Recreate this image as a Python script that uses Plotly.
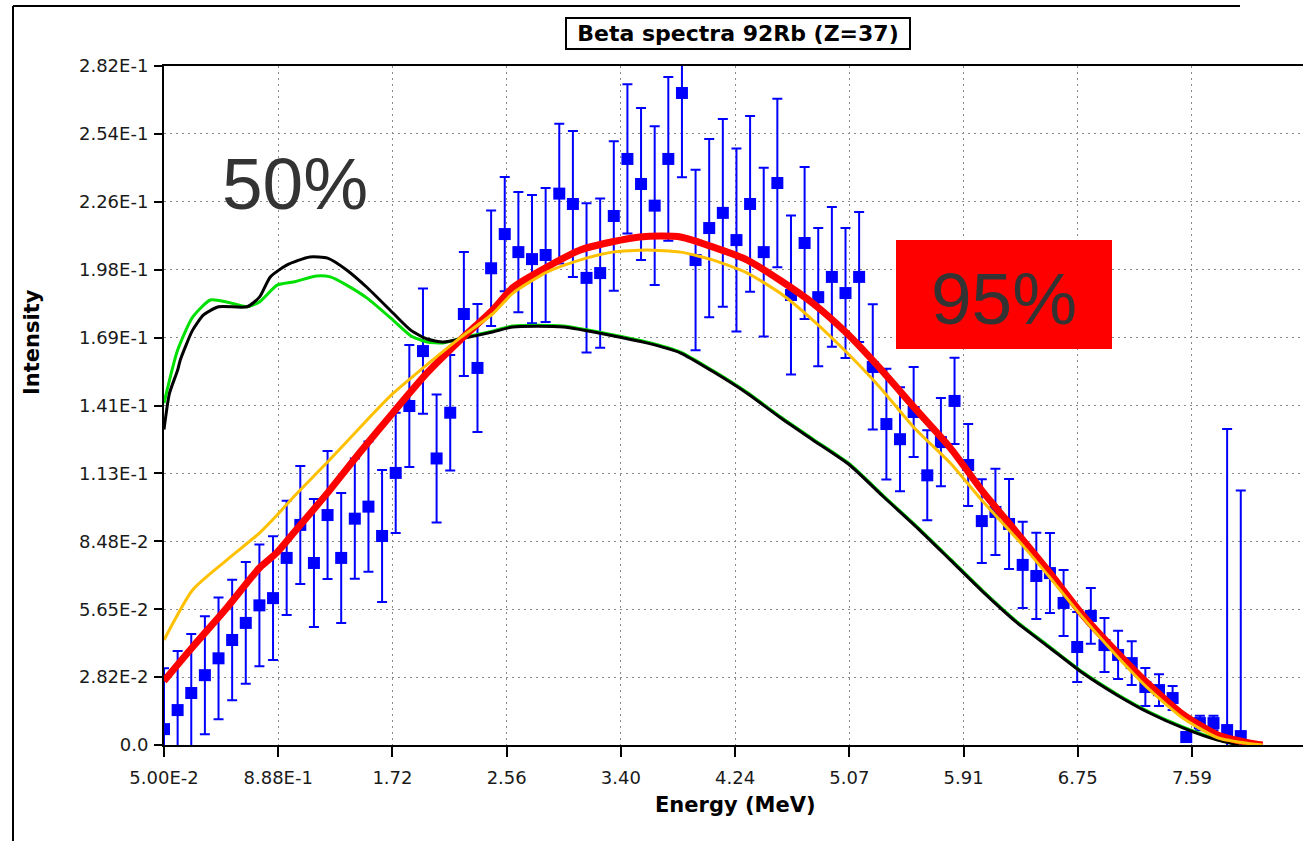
import plotly.graph_objects as go

# ---------------- data ----------------
# measured points (MeV, intensity, +/- error)
data_energy = [0.05, 0.15, 0.25, 0.35, 0.45, 0.55, 0.65, 0.75, 0.85, 0.95,
               1.05, 1.15, 1.25, 1.35, 1.45, 1.55, 1.65, 1.75, 1.85, 1.95,
               2.05, 2.15, 2.25, 2.35, 2.45, 2.55, 2.65, 2.75, 2.85, 2.95,
               3.05, 3.15, 3.25, 3.35, 3.45, 3.55, 3.65, 3.75, 3.85, 3.95,
               4.05, 4.15, 4.25, 4.35, 4.45, 4.55, 4.65, 4.75, 4.85, 4.95,
               5.05, 5.15, 5.25, 5.35, 5.45, 5.55, 5.65, 5.75, 5.85, 5.95,
               6.05, 6.15, 6.25, 6.35, 6.45, 6.55, 6.65, 6.75, 6.85, 6.95,
               7.05, 7.15, 7.25, 7.35, 7.45, 7.55, 7.65, 7.75, 7.85, 7.95]
data_intensity = [0.0066, 0.0145, 0.0216, 0.0290, 0.0360, 0.0436, 0.0507, 0.0580, 0.0610, 0.0777,
                  0.0914, 0.0756, 0.0955, 0.0777, 0.0940, 0.0990, 0.0868, 0.1130, 0.1408, 0.1636,
                  0.1190, 0.1380, 0.1790, 0.1566, 0.1980, 0.2122, 0.2047, 0.2018, 0.2035, 0.2290,
                  0.2247, 0.1940, 0.1960, 0.2197, 0.2434, 0.2330, 0.2240, 0.2434, 0.2708, 0.2014,
                  0.2147, 0.2210, 0.2097, 0.2247, 0.2047, 0.2334, 0.1869, 0.2085, 0.1860, 0.1944,
                  0.1877, 0.1944, 0.1570, 0.1333, 0.1270, 0.1383, 0.1120, 0.1258, 0.1429, 0.1163,
                  0.0930, 0.0968, 0.0918, 0.0748, 0.0702, 0.0714, 0.0590, 0.0407, 0.0536, 0.0415,
                  0.0374, 0.0340, 0.0241, 0.0228, 0.0195, 0.0033, 0.0091, 0.0091, 0.0062, 0.0037]
data_error = [0.0253, 0.0245, 0.0245, 0.0245, 0.0253, 0.0250, 0.0253, 0.0253, 0.0257, 0.0237,
              0.0245, 0.0266, 0.0266, 0.0270, 0.0250, 0.0270, 0.0274, 0.0250, 0.0253, 0.0260,
              0.0266, 0.0240, 0.0257, 0.0266, 0.0240, 0.0237, 0.0250, 0.0266, 0.0278, 0.0290,
              0.0303, 0.0310, 0.0310, 0.0310, 0.0310, 0.0316, 0.0330, 0.0340, 0.0350, 0.0375,
              0.0370, 0.0390, 0.0380, 0.0365, 0.0350, 0.0350, 0.0330, 0.0316, 0.0287, 0.0290,
              0.0270, 0.0270, 0.0260, 0.0230, 0.0216, 0.0187, 0.0187, 0.0183, 0.0179, 0.0170,
              0.0174, 0.0179, 0.0187, 0.0179, 0.0179, 0.0166, 0.0137, 0.0145, 0.0116, 0.0112,
              0.0100, 0.0091, 0.0079, 0.0066, 0.0050, 0.0020, 0.0030, 0.0030, 0.1250, 0.1020]

# red (95%) curve
red_energy = [0.05, 0.26, 0.51, 0.75, 0.88, 1.00, 1.25, 1.49, 1.73, 1.98, 2.22, 2.46, 2.61,
              2.86, 3.10, 3.34, 3.54, 3.71, 3.84, 4.08, 4.33, 4.57, 4.81, 5.06, 5.30, 5.55,
              5.82, 6.06, 6.31, 6.55, 6.79, 7.04, 7.28, 7.53, 7.78, 8.02, 8.11]
red_intensity = [0.0266, 0.0407, 0.0569, 0.0735, 0.0800, 0.0880, 0.1047, 0.1217, 0.1380, 0.1545,
                 0.1680, 0.1806, 0.1900, 0.1985, 0.2055, 0.2090, 0.2110, 0.2114, 0.2110, 0.2068,
                 0.2014, 0.1930, 0.1835, 0.1710, 0.1566, 0.1404, 0.1233, 0.1050, 0.0880, 0.0714,
                 0.0540, 0.0386, 0.0249, 0.0125, 0.0042, 0.0008, 0.0]

# orange curve
orange_energy = [0.05, 0.26, 0.51, 0.75, 0.88, 1.00, 1.25, 1.49, 1.73, 1.98, 2.22, 2.46, 2.61,
                 2.86, 3.10, 3.34, 3.59, 3.84, 4.08, 4.33, 4.57, 4.81, 5.06, 5.30, 5.55, 5.82,
                 6.06, 6.31, 6.55, 6.79, 7.04, 7.28, 7.53, 7.78, 8.02, 8.11]
orange_intensity = [0.0436, 0.0644, 0.0768, 0.0880, 0.0955, 0.1030, 0.1175, 0.1320, 0.1460, 0.1580,
                    0.1690, 0.1790, 0.1877, 0.1964, 0.2014, 0.2047, 0.2056, 0.2047, 0.2014, 0.1960,
                    0.1877, 0.1765, 0.1630, 0.1487, 0.1320, 0.1170, 0.1010, 0.0855, 0.0695, 0.0530,
                    0.0370, 0.0230, 0.0110, 0.0030, 0.0005, 0.0]

# black (50%) curve
black_energy = [0.05, 0.09, 0.15, 0.17, 0.26, 0.34, 0.45, 0.66, 0.75, 0.83, 0.95, 1.12, 1.25,
                1.39, 1.54, 1.73, 1.86, 1.98, 2.10, 2.22, 2.46, 2.61, 2.98, 3.34, 3.59, 3.84,
                4.08, 4.33, 4.57, 4.81, 5.08, 5.33, 5.58, 5.82, 6.06, 6.31, 6.55, 6.79, 7.04,
                7.28, 7.53, 7.78, 7.94]
black_intensity = [0.1310, 0.1460, 0.1557, 0.1600, 0.1723, 0.1786, 0.1820, 0.1820, 0.1860, 0.1944,
                   0.1993, 0.2027, 0.2022, 0.1973, 0.1900, 0.1794, 0.1723, 0.1686, 0.1674, 0.1686,
                   0.1715, 0.1736, 0.1736, 0.1700, 0.1670, 0.1628, 0.1550, 0.1460, 0.1360, 0.1267,
                   0.1163, 0.1030, 0.0900, 0.0768, 0.0635, 0.0507, 0.0403, 0.0299, 0.0208, 0.0133,
                   0.0070, 0.0020, 0.0]

# green curve
green_energy = [0.05, 0.15, 0.26, 0.39, 0.51, 0.66, 0.75, 0.88, 1.00, 1.17, 1.27, 1.39, 1.54,
                1.73, 1.86, 1.98, 2.10, 2.22, 2.46, 2.61, 2.98, 3.34, 3.59, 3.84, 4.08, 4.33,
                4.57, 4.81, 5.08, 5.33, 5.58, 5.82, 6.06, 6.31, 6.55, 6.79, 7.04, 7.28, 7.53,
                7.78, 7.94]
green_intensity = [0.1420, 0.1640, 0.1777, 0.1848, 0.1840, 0.1820, 0.1840, 0.1910, 0.1923, 0.1948,
                   0.1944, 0.1910, 0.1856, 0.1765, 0.1700, 0.1674, 0.1670, 0.1688, 0.1719, 0.1740,
                   0.1740, 0.1704, 0.1674, 0.1632, 0.1554, 0.1464, 0.1364, 0.1271, 0.1167, 0.1034,
                   0.0904, 0.0772, 0.0639, 0.0511, 0.0407, 0.0303, 0.0212, 0.0137, 0.0074, 0.0023,
                   0.0]

# axis ticks
x_tick_vals = [0.05, 0.888, 1.726, 2.564, 3.402, 4.24, 5.078, 5.916, 6.754, 7.592]
x_tick_text = ["5.00E-2", "8.88E-1", "1.72", "2.56", "3.40", "4.24", "5.07", "5.91", "6.75", "7.59"]
y_tick_vals = [0.0, 0.0282, 0.0564, 0.0846, 0.1128, 0.141, 0.1692, 0.1974, 0.2256, 0.2538, 0.282]
y_tick_text = ["0.0", "2.82E-2", "5.65E-2", "8.48E-2", "1.13E-1", "1.41E-1", "1.69E-1",
               "1.98E-1", "2.26E-1", "2.54E-1", "2.82E-1"]

title_text = "Beta spectra 92Rb (Z=37)"
x_title = "Energy (MeV)"
y_title = "Intensity"
note_left = "50%"
note_right = "95%"

# ---------------- layout geometry ----------------
W, H = 1303, 841
ML, MR, MT, MB = 164, 0, 66, 96


def px_x(p):
    return (p - ML) / (W - ML - MR)


def px_y(p):
    return (H - MB - p) / (H - MT - MB)


fig = go.Figure()

fig.add_trace(go.Scatter(
    x=data_energy, y=data_intensity, mode="markers",
    marker=dict(symbol="square", size=12, color="#0000FF"),
    error_y=dict(type="data", array=data_error, visible=True,
                 color="#0000FF", thickness=2, width=5),
    hoverinfo="x+y",
))
fig.add_trace(go.Scatter(x=green_energy, y=green_intensity, mode="lines",
                         line=dict(color="#00E000", width=3, shape="spline", smoothing=0.6)))
fig.add_trace(go.Scatter(x=black_energy, y=black_intensity, mode="lines",
                         line=dict(color="#000000", width=3, shape="spline", smoothing=0.6)))
fig.add_trace(go.Scatter(x=red_energy, y=red_intensity, mode="lines",
                         line=dict(color="#FF0000", width=7, shape="spline", smoothing=0.6)))
fig.add_trace(go.Scatter(x=orange_energy, y=orange_intensity, mode="lines",
                         line=dict(color="#FFC000", width=3, shape="spline", smoothing=0.6)))

tick_font = dict(family="DejaVu Sans", size=18, color="#1a1a1a")
grid_common = dict(showgrid=True, gridcolor="#8a8a8a", gridwidth=1, griddash="2px,4px",
                   zeroline=False, showline=True, linecolor="#000000", linewidth=2,
                   ticks="outside", tickcolor="#000000", tickwidth=2, tickfont=tick_font)

fig.update_xaxes(range=[0.05, 0.05 + (W - ML - MR) / 136.3], tickmode="array",
                 tickvals=x_tick_vals, ticktext=x_tick_text, ticklen=10,
                 ticklabelstandoff=5, mirror=True, **grid_common)
fig.update_yaxes(range=[0, 0.282], tickmode="array", tickvals=y_tick_vals,
                 ticktext=y_tick_text, ticklen=8, ticklabelstandoff=2, **grid_common)

annotations = [
    dict(x=px_x(738), y=px_y(33.5), text="<b>" + title_text + "</b>",
         font=dict(family="DejaVu Sans", size=22, color="#000000"),
         bordercolor="#000000", borderwidth=2, borderpad=1, bgcolor="#FFFFFF",
         width=340, height=27),
    dict(x=px_x(32), y=px_y(342), text="<b>" + y_title + "</b>", textangle=-90,
         font=dict(family="DejaVu Sans", size=21, color="#000000")),
    dict(x=px_x(735), y=px_y(805), text="<b>" + x_title + "</b>",
         font=dict(family="DejaVu Sans", size=21, color="#000000")),
    dict(x=px_x(295), y=px_y(183), text=note_left,
         font=dict(family="Liberation Sans", size=73, color="#333333")),
    dict(x=px_x(1004), y=px_y(298), text=note_right,
         font=dict(family="Liberation Sans", size=73, color="#333333")),
]
for a in annotations:
    a.update(xref="paper", yref="paper", showarrow=False, xanchor="center", yanchor="middle")

shapes = [
    dict(type="rect", xref="paper", yref="paper", x0=px_x(896), x1=px_x(1112),
         y0=px_y(349), y1=px_y(240), fillcolor="#FF0000", line=dict(width=0), layer="above"),
    dict(type="line", xref="paper", yref="paper", x0=px_x(13), x1=px_x(13),
         y0=px_y(6), y1=px_y(841), line=dict(color="#000000", width=2)),
    dict(type="line", xref="paper", yref="paper", x0=px_x(13), x1=px_x(1240),
         y0=px_y(6), y1=px_y(6), line=dict(color="#000000", width=2)),
]

fig.update_layout(width=W, height=H, margin=dict(l=ML, r=MR, t=MT, b=MB, pad=0),
                  paper_bgcolor="#FFFFFF", plot_bgcolor="#FFFFFF", showlegend=False,
                  annotations=annotations, shapes=shapes)

fig.write_html("out.html")
